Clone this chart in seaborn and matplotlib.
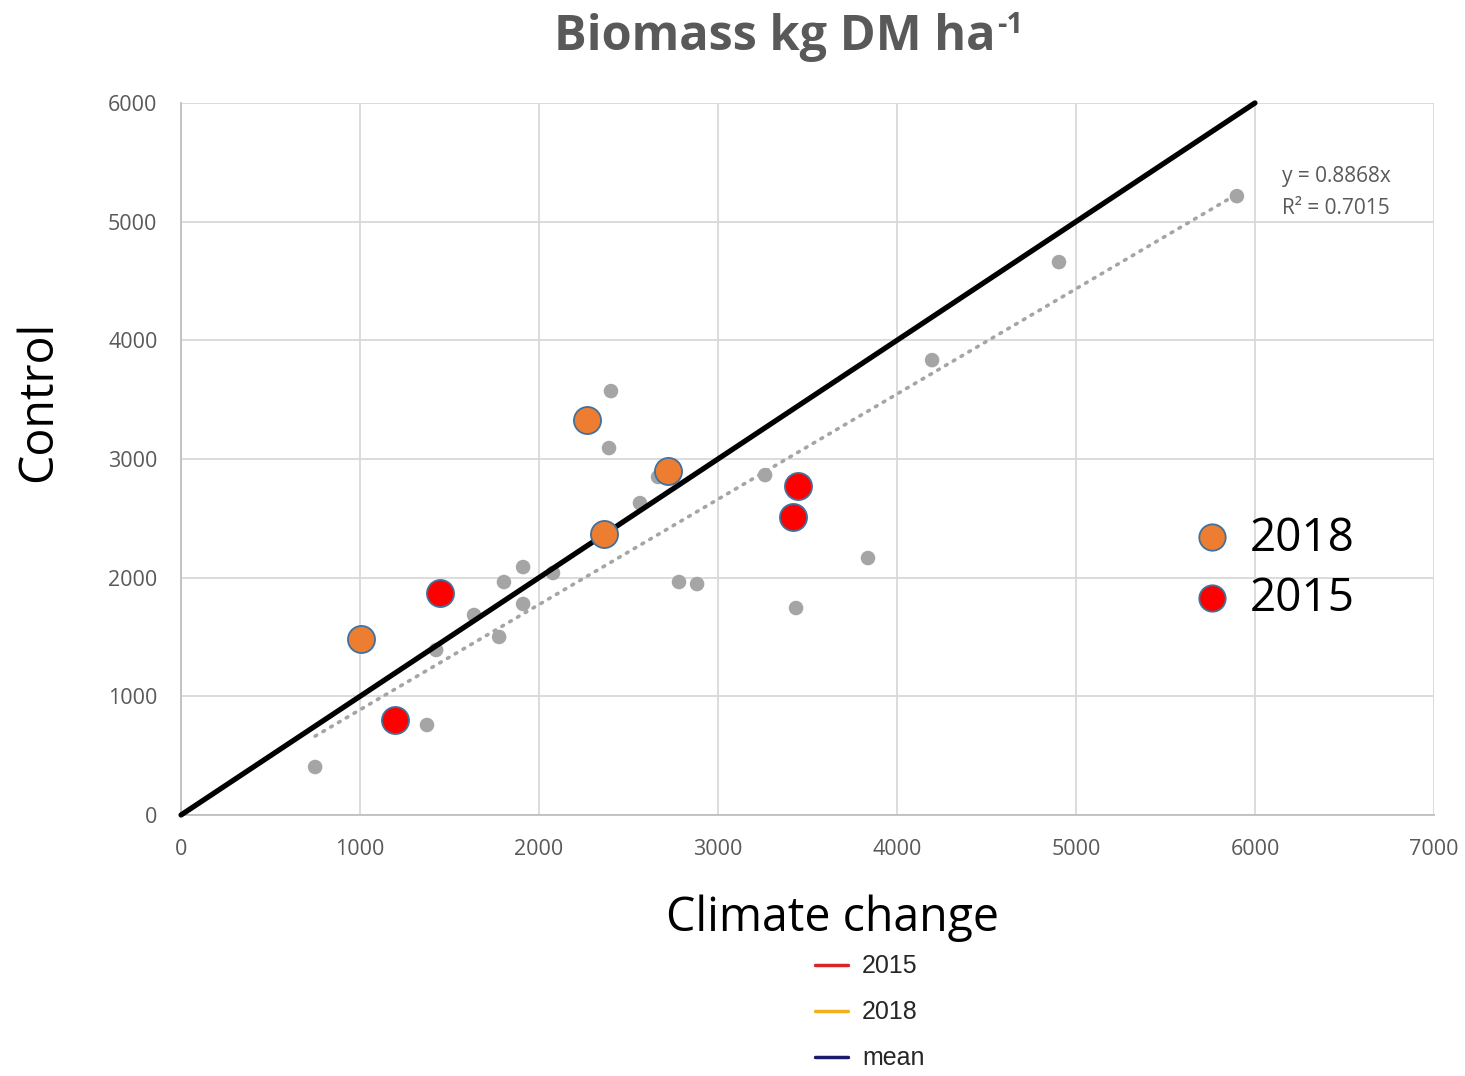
import matplotlib
matplotlib.use("Agg")
import matplotlib.pyplot as plt
from matplotlib.lines import Line2D
import numpy as np
import pandas as pd
import seaborn as sns

# All site-years: climate change vs control biomass (kg DM/ha)
all_cc = [749, 1374, 1425, 1637, 1777, 1804, 1911, 1911, 2078, 2402, 2391, 2564,
          2665, 2782, 2883, 3263, 3436, 3838, 4196, 4905, 5899]
all_ctrl = [404, 758, 1390, 1685, 1500, 1963, 2089, 1778, 2039, 3572, 3092, 2628,
            2848, 1963, 1946, 2864, 1744, 2165, 3833, 4659, 5215]

# Highlighted years
cc_2018 = [2268, 2721, 2363, 1006]
ctrl_2018 = [3328, 2898, 2367, 1483]
cc_2015 = [1447, 1196, 3447, 3419]
ctrl_2015 = [1870, 800, 2772, 2511]

# Regression through origin
slope = 0.8868
r_squared = 0.7015

# 1:1 reference
identity = [0, 6000]

x_ticks = [0, 1000, 2000, 3000, 4000, 5000, 6000, 7000]
y_ticks = [0, 1000, 2000, 3000, 4000, 5000, 6000]

sns.set_style("white")
plt.rcParams["font.family"] = ["Open Sans", "DejaVu Sans"]

fig = plt.figure(figsize=(14.65, 10.76), dpi=100)
ax = fig.add_axes([0.1236, 0.2426, 0.8552, 0.6617])

grid_c = "#D9D9D9"
text_c = "#595959"
orange = "#ED7D31"
red = "#FF0000"
edge = "#41719C"

sns.scatterplot(x=all_cc, y=all_ctrl, ax=ax, color="#A5A5A5", s=110,
                edgecolor="none", zorder=3, legend=False)

# Trendline across the x range of the data
tx = np.array([min(all_cc), max(all_cc)])
ax.plot(tx, slope * tx, linestyle=(0, (0.5, 2.0)), dash_capstyle="round",
        color="#A5A5A5", linewidth=2.6, zorder=2)

sns.lineplot(x=identity, y=identity, ax=ax, color="black", linewidth=3.8,
             zorder=4, clip_on=False)

sns.scatterplot(x=cc_2018, y=ctrl_2018, ax=ax, color=orange, s=380,
                edgecolor=edge, linewidth=1.3, zorder=5, legend=False)
sns.scatterplot(x=cc_2015, y=ctrl_2015, ax=ax, color=red, s=380,
                edgecolor=edge, linewidth=1.3, zorder=5, legend=False)

ax.set_xlim(0, 7000)
ax.set_ylim(0, 6000)
ax.set_xticks(x_ticks)
ax.set_yticks(y_ticks)
ax.set_xticklabels([str(t) for t in x_ticks])
ax.set_yticklabels([str(t) for t in y_ticks])
ax.tick_params(axis="both", length=0, labelsize=15.5, labelcolor=text_c)
ax.tick_params(axis="x", pad=17)
ax.tick_params(axis="y", pad=17)
ax.grid(True, color=grid_c, linewidth=1.3)
ax.set_axisbelow(True)
for side in ["top", "right"]:
    ax.spines[side].set_visible(False)
for side in ["left", "bottom"]:
    ax.spines[side].set_color("#BFBFBF")
    ax.spines[side].set_linewidth(1.3)

ax.set_xlabel("Climate change", fontsize=33.5, color="black", va="center")
ax.xaxis.set_label_coords(0.520, -0.145)
ax.set_ylabel("Control", fontsize=33.5, color="black", va="center")
ax.yaxis.set_label_coords(-0.114, 0.581)

# Title with a small raised "-1"
title = fig.text(0.529, 0.965, "Biomass kg DM ha", fontsize=35, fontweight="bold",
                 color=text_c, ha="center", va="center")
fig.canvas.draw()
bb = title.get_window_extent().transformed(fig.transFigure.inverted())
fig.text(bb.x1 + 0.001, 0.976, "-1", fontsize=21, fontweight="bold",
         color=text_c, ha="left", va="center")

ax.text(0.879, 0.897, f"y = {slope}x", transform=ax.transAxes,
        fontsize=15, color=text_c, va="center")
ax.text(0.879, 0.852, f"R\u00b2 = {r_squared}", transform=ax.transAxes,
        fontsize=15, color=text_c, va="center")

# Year key on the right
for yy, col, lab in [(0.390, orange, "2018"), (0.305, red, "2015")]:
    ax.plot([0.823], [yy], transform=ax.transAxes, marker="o", markersize=19,
            markerfacecolor=col, markeredgecolor=edge, markeredgewidth=1.3,
            linestyle="none", zorder=6, clip_on=False)
    ax.text(0.853, yy - 0.002, lab, transform=ax.transAxes, fontsize=33,
            color="black", va="center", ha="left", zorder=6)

# Series legend below the axis title
line_handles = [
    Line2D([], [], color="#D62728", linewidth=2.5),
    Line2D([], [], color="#F2B01E", linewidth=2.5),
    Line2D([], [], color="#1B1B6B", linewidth=2.5),
]
fig.legend(line_handles, ["2015", "2018", "mean"], loc="upper left",
           bbox_to_anchor=(0.556, 0.113), frameon=False,
           prop={"family": ["Liberation Sans"], "size": 18},
           handlelength=1.35, handletextpad=0.55, labelspacing=0.88,
           borderaxespad=0, borderpad=0)

fig.savefig("out.png", dpi=100, facecolor="white")
